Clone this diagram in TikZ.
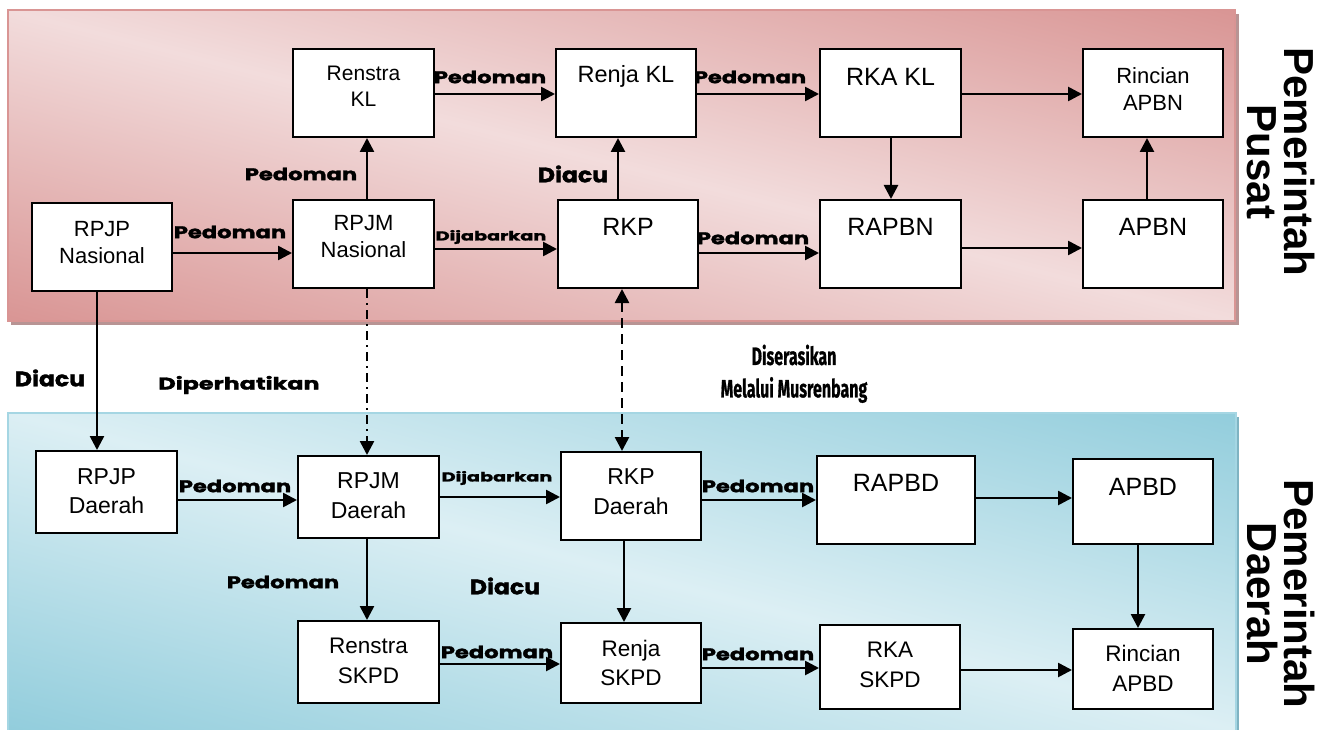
\documentclass[tikz,border=0pt]{standalone}
\usepackage{fontspec}
\setmainfont{Liberation Sans}
\newfontfamily\labfont{Poppins}[BoldFeatures={FakeBold=1.5}]
\newfontfamily\condfont{Fira Sans}[BoldFeatures={FakeBold=1}]
\usetikzlibrary{arrows.meta,calc}
\definecolor{pinkD}{HTML}{D99594}
\definecolor{pinkL}{HTML}{F2DCDC}
\definecolor{pinkS}{HTML}{B89494}
\definecolor{blueD}{HTML}{92CDDC}
\definecolor{blueL}{HTML}{DCEFF4}
\definecolor{blueB}{HTML}{A5D6E3}
\definecolor{blueS}{HTML}{7FB3C2}
\newcommand{\lab}[2][1.4]{\scalebox{#1}[1]{\labfont\bfseries #2}}
\newcommand{\cond}[1]{\scalebox{0.64}[1]{\condfont\bfseries #1}}
\tikzset{
  box/.style={draw=black, line width=2pt, fill=white, inner sep=0pt},
  btxt/.style={align=center, inner sep=0pt, font=\fontsize{22}{27}\selectfont},
  bigtxt/.style={align=center, inner sep=0pt, font=\fontsize{25}{28}\selectfont},
  tip/.style={-{Triangle[length=14pt,width=14pt]}},
  arr/.style={line width=2.6pt, tip},
  lbl/.style={inner sep=0pt, font=\fontsize{17}{20}\selectfont},
  sidetxt/.style={align=center, inner sep=0pt, rotate=-90, font=\fontsize{42}{37}\selectfont\bfseries},
}
\begin{document}
\begin{tikzpicture}[x=1pt,y=-1pt]
\useasboundingbox (0,0) rectangle (1325,730);
% panels
\fill[pinkS] (11,14) rectangle (1239,325);
\begin{scope}
  \clip (8,10) rectangle (1235,321);
  \begin{scope}[transform canvas={shift={(621.5,165.5)}, rotate=-14.2}]
    \shade[top color=pinkD, bottom color=pinkD, middle color=pinkL] (-700,-301) rectangle (700,301);
  \end{scope}
\end{scope}
\draw[pinkD, line width=2pt] (8,10) rectangle (1235,321);
\fill[blueS] (1232,417) rectangle (1239,730);
\begin{scope}
  \clip (8,413) rectangle (1236,730);
  \begin{scope}[transform canvas={shift={(622,571.5)}, rotate=-14.5}]
    \shade[top color=blueD, bottom color=blueD, middle color=blueL] (-700,-307) rectangle (700,307);
  \end{scope}
\end{scope}
\draw[blueB, line width=2pt] (8,730) -- (8,413) -- (1236,413) -- (1236,730);

% top row
\node[box, minimum width=141, minimum height=88] (renstraKL) at (363.5,93) {};
\node[btxt, font=\fontsize{21}{26}\selectfont] (trenstraKL) at (363.5,86) {Renstra\\KL};
\node[box, minimum width=140, minimum height=88] (renjaKL) at (626,93) {};
\node[btxt, font=\fontsize{23.5}{27}\selectfont] (trenjaKL) at (626,76) {Renja KL};
\node[box, minimum width=141, minimum height=88] (rkaKL) at (890.5,93) {};
\node[bigtxt] (trkaKL) at (890.5,77) {RKA KL};
\node[box, minimum width=140, minimum height=88] (rincianAPBN) at (1153,93) {};
\node[btxt] (trincianAPBN) at (1153,89) {Rincian\\APBN};

% second row
\node[box, minimum width=140, minimum height=88] (rpjpN) at (102,247) {};
\node[btxt] (trpjpN) at (102,243) {RPJP\\Nasional};
\node[box, minimum width=141, minimum height=88] (rpjmN) at (363.5,244) {};
\node[btxt] (trpjmN) at (363.5,237) {RPJM\\Nasional};
\node[box, minimum width=140, minimum height=88] (rkp) at (628,244) {};
\node[bigtxt] (trkp) at (628,227) {RKP};
\node[box, minimum width=141, minimum height=88] (rapbn) at (890.5,244) {};
\node[bigtxt] (trapbn) at (890.5,227) {RAPBN};
\node[box, minimum width=140, minimum height=88] (apbn) at (1153,244) {};
\node[bigtxt] (tapbn) at (1153,227) {APBN};

% bottom first row
\node[box, minimum width=141, minimum height=82] (rpjpD) at (106.5,492) {};
\node[btxt, font=\fontsize{23}{29}\selectfont] (trpjpD) at (106.5,491) {RPJP\\Daerah};
\node[box, minimum width=141, minimum height=82] (rpjmD) at (368.5,497) {};
\node[btxt, font=\fontsize{23}{30}\selectfont] (trpjmD) at (368.5,496) {RPJM\\Daerah};
\node[box, minimum width=140, minimum height=88] (rkpD) at (631,496) {};
\node[btxt, font=\fontsize{23}{30}\selectfont] (trkpD) at (631,492) {RKP\\Daerah};
\node[box, minimum width=158, minimum height=88] (rapbd) at (896,500) {};
\node[bigtxt] (trapbd) at (896,483) {RAPBD};
\node[box, minimum width=140, minimum height=85] (apbd) at (1143,501.5) {};
\node[bigtxt] (tapbd) at (1143,487) {APBD};

% bottom second row
\node[box, minimum width=141, minimum height=82] (renstraS) at (368.5,662) {};
\node[btxt, font=\fontsize{22.5}{30}\selectfont] (trenstraS) at (368.5,661) {Renstra\\SKPD};
\node[box, minimum width=140, minimum height=80] (renjaS) at (631,663) {};
\node[btxt, font=\fontsize{22.5}{29}\selectfont] (trenjaS) at (631,663) {Renja\\SKPD};
\node[box, minimum width=140, minimum height=84] (rkaS) at (890,667) {};
\node[btxt, font=\fontsize{22.5}{30}\selectfont] (trkaS) at (890,665) {RKA\\SKPD};
\node[box, minimum width=140, minimum height=80] (rincianAPBD) at (1143,669) {};
\node[btxt, font=\fontsize{22.5}{30}\selectfont] (trincianAPBD) at (1143,668) {Rincian\\APBD};

% arrows top
\draw[arr] (rpjpN.east |- 0,253) -- (rpjmN.west |- 0,253);
\draw[arr] (rpjmN.north -| 367,0) -- (renstraKL.south -| 367,0);
\draw[arr] (renstraKL.east |- 0,94) -- (renjaKL.west |- 0,94);
\draw[arr] (renjaKL.east |- 0,94) -- (rkaKL.west |- 0,94);
\draw[arr] (rkaKL.east |- 0,94) -- (rincianAPBN.west |- 0,94);
\draw[arr] (rkaKL.south -| 891,0) -- (rapbn.north -| 891,0);
\draw[arr] (apbn.north -| 1147,0) -- (rincianAPBN.south -| 1147,0);
\draw[arr] (rapbn.east |- 0,248) -- (apbn.west |- 0,248);
\draw[arr] (rpjmN.east |- 0,249) -- (rkp.west |- 0,249);
\draw[arr] (rkp.east |- 0,253) -- (rapbn.west |- 0,253);
\draw[arr] (rkp.north -| 618,0) -- (renjaKL.south -| 618,0);

% between panels
\draw[arr] (rpjpN.south -| 97,0) -- (rpjpD.north -| 97,0);
\draw[arr, dash pattern=on 9pt off 5pt on 2pt off 5pt] (rpjmN.south -| 367,0) -- (rpjmD.north -| 367,0);
\draw[line width=2.6pt, {Triangle[length=14pt,width=14pt]}-{Triangle[length=14pt,width=14pt]}, dash pattern=on 10pt off 6pt] (rkp.south -| 622,0) -- (rkpD.north -| 622,0);

% arrows bottom
\draw[arr] (rpjpD.east |- 0,500) -- (rpjmD.west |- 0,500);
\draw[arr] (rpjmD.east |- 0,497) -- (rkpD.west |- 0,497);
\draw[arr] (rkpD.east |- 0,500) -- (rapbd.west |- 0,500);
\draw[arr] (rapbd.east |- 0,498) -- (apbd.west |- 0,498);
\draw[arr] (apbd.south -| 1138,0) -- (rincianAPBD.north -| 1138,0);
\draw[arr] (rpjmD.south -| 367,0) -- (renstraS.north -| 367,0);
\draw[arr] (rkpD.south -| 624,0) -- (renjaS.north -| 624,0);
\draw[arr] (renstraS.east |- 0,664) -- (renjaS.west |- 0,664);
\draw[arr] (renjaS.east |- 0,668) -- (rkaS.west |- 0,668);
\draw[arr] (rkaS.east |- 0,670) -- (rincianAPBD.west |- 0,670);

% labels
\node[lbl] (l1) at (230,232) {\lab[1.33]{Pedoman}};
\node[lbl] (l2) at (301,174) {\lab[1.33]{Pedoman}};
\node[lbl] (l3) at (490,77) {\lab[1.33]{Pedoman}};
\node[lbl] (l4) at (750,77) {\lab[1.33]{Pedoman}};
\node[lbl, font=\fontsize{13}{15}\selectfont] (l5) at (491,237) {\lab[1.48]{Dijabarkan}};
\node[lbl] (l6) at (753,238) {\lab[1.33]{Pedoman}};
\node[lbl, font=\fontsize{21}{24}\selectfont] (l7) at (573,174) {\lab[1.12]{Diacu}};
\node[lbl, font=\fontsize{21}{24}\selectfont] (l8) at (50,378) {\lab[1.12]{Diacu}};
\node[lbl] (l9) at (239,385) {\lab[1.4]{Diperhatikan}};
\node[lbl, font=\fontsize{25}{26}\selectfont] (l10) at (794,355) {\cond{Diserasikan}};
\node[lbl, font=\fontsize{25}{26}\selectfont] (l11) at (794,390) {\cond{Melalui Musrenbang}};
\node[lbl] (l12) at (235,486) {\lab[1.33]{Pedoman}};
\node[lbl, font=\fontsize{13}{15}\selectfont] (l13) at (497,478) {\lab[1.48]{Dijabarkan}};
\node[lbl] (l14) at (758,486) {\lab[1.33]{Pedoman}};
\node[lbl] (l15) at (283,582) {\lab[1.33]{Pedoman}};
\node[lbl, font=\fontsize{21}{24}\selectfont] (l16) at (505,586) {\lab[1.12]{Diacu}};
\node[lbl] (l17) at (497,652) {\lab[1.33]{Pedoman}};
\node[lbl] (l18) at (758,654) {\lab[1.33]{Pedoman}};

% side titles
\node[sidetxt] (pusat) at (1281,162) {Pemerintah\\Pusat};
\node[sidetxt] (daerah) at (1281,594) {Pemerintah\\Daerah};
\end{tikzpicture}
\end{document}
